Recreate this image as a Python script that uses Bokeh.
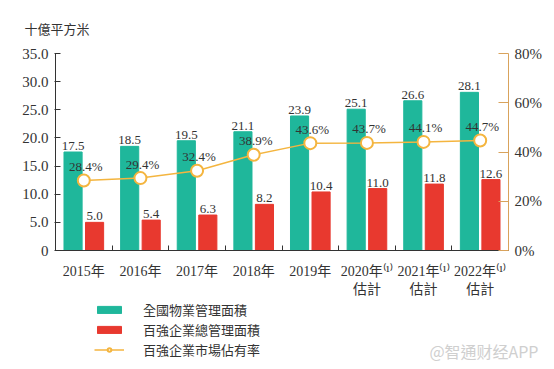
import numpy as np
from bokeh.plotting import figure
from bokeh.layouts import column
from bokeh.models import (ColumnDataSource, Range1d, LinearAxis, FixedTicker, Legend, LegendItem,
                          Title, Label, NumeralTickFormatter)
from bokeh.core.properties import value
from bokeh.embed import file_html
from bokeh.resources import INLINE

years = ["2015年", "2016年", "2017年", "2018年", "2019年", "2020年⁽¹⁾\n估計", "2021年⁽¹⁾\n估計", "2022年⁽¹⁾\n估計"]
national_area = [17.5, 18.5, 19.5, 21.1, 23.9, 25.1, 26.6, 28.1]
top100_area = [5.0, 5.4, 6.3, 8.2, 10.4, 11.0, 11.8, 12.6]
market_share = [28.4, 29.4, 32.4, 38.9, 43.6, 43.7, 44.1, 44.7]
left_ticks = [0, 5, 10, 15, 20, 25, 30, 35]
right_ticks = [0, 20, 40, 60, 80]
y_unit = "十億平方米"
legend_names = ["全國物業管理面積", "百強企業總管理面積", "百強企業市場佔有率"]
watermark = "@智通财经APP"

GREEN = "#1fb79b"
RED = "#e8392f"
LINE = "#f4b53f"
RAXIS = "#d9a35c"
DARK = "#333333"
SERIF = "'Liberation Serif', 'Noto Sans CJK TC'"
CJK = "Noto Sans CJK TC"

n = len(years)
xc = np.arange(n) + 0.5
src = ColumnDataSource(dict(
    x=xc, xg=xc - 0.19, xr=xc + 0.19,
    nat=national_area, top=top100_area, share=market_share,
    nat_lbl=[f"{v:.1f}" for v in national_area],
    top_lbl=[f"{v:.1f}" for v in top100_area],
    share_lbl=[f"{v:.1f}%" for v in market_share],
))

# ---------------- main chart ----------------
p = figure(width=554, height=299, output_backend="svg", toolbar_location=None,
           x_range=Range1d(0, n), y_range=Range1d(0, 35),
           min_border_left=55, min_border_right=46, min_border_top=48, min_border_bottom=49)
p.frame_align = False
p.outline_line_color = None
p.grid.visible = False
p.background_fill_color = "white"
p.border_fill_color = "white"
p.extra_y_ranges = {"pct": Range1d(0, 80)}

p.title = Title(text=y_unit, align="left", offset=-31, standoff=32,
                text_font=CJK, text_font_size="13px", text_font_style="normal", text_color=DARK)

bar_style_g = dict(color=GREEN)
bar_style_r = dict(color=RED)
line_style = dict(line_color=LINE, line_width=1.5)
mark_style = dict(size=12, fill_color="white", line_color=LINE, line_width=2)

p.vbar(x="xg", top="nat", width=0.32, source=src, **bar_style_g)
p.vbar(x="xr", top="top", width=0.32, source=src, **bar_style_r)
p.line(x="x", y="share", source=src, y_range_name="pct", **line_style)
p.scatter(x="x", y="share", source=src, y_range_name="pct", **mark_style)

p.text(x="xg", y="nat", text="nat_lbl", source=src, text_align="center", text_baseline="bottom",
       y_offset=-2, text_font=value(SERIF), text_font_size="13px", text_color=DARK)
p.text(x="xr", y="top", text="top_lbl", source=src, text_align="center", text_baseline="bottom",
       y_offset=-2, text_font=value(SERIF), text_font_size="13px", text_color=DARK)
p.text(x="x", y="share", text="share_lbl", source=src, y_range_name="pct", text_align="center",
       text_baseline="middle", x_offset=2, y_offset=-14, text_font=value(SERIF),
       text_font_size="13px", text_color=DARK)

ya = p.yaxis[0]
ya.ticker = FixedTicker(ticks=left_ticks)
ya.formatter = NumeralTickFormatter(format="0.0")
ya.major_label_overrides = {0: "0"}
ya.axis_line_color = DARK
ya.major_tick_line_color = DARK
ya.major_tick_in = 5
ya.major_tick_out = 1
ya.minor_tick_line_color = None
ya.major_label_text_font = SERIF
ya.major_label_text_font_size = "15px"
ya.major_label_text_color = DARK
ya.major_label_standoff = 6

xa = p.xaxis[0]
xa.ticker = FixedTicker(ticks=list(xc), minor_ticks=list(range(n + 1)))
xa.major_label_overrides = {float(v): years[i] for i, v in enumerate(xc)}
xa.axis_line_color = DARK
xa.major_tick_line_color = None
xa.minor_tick_line_color = DARK
xa.minor_tick_in = 5
xa.minor_tick_out = 0
xa.major_label_text_font = SERIF
xa.major_label_text_font_size = "14px"
xa.major_label_text_color = DARK
xa.major_label_standoff = 7

ra = LinearAxis(y_range_name="pct", ticker=FixedTicker(ticks=right_ticks),
                formatter=NumeralTickFormatter(format="0"))
ra.major_label_overrides = {v: f"{v}%" for v in right_ticks}
ra.axis_line_color = RAXIS
ra.major_tick_line_color = RAXIS
ra.major_tick_in = 10
ra.major_tick_out = 0
ra.minor_tick_line_color = None
ra.major_label_text_font = SERIF
ra.major_label_text_font_size = "15px"
ra.major_label_text_color = DARK
ra.major_label_standoff = 6
p.add_layout(ra, "right")

# ---------------- legend strip ----------------
q = figure(width=554, height=70, output_backend="svg", toolbar_location=None,
           x_range=Range1d(0, 1), y_range=Range1d(0, 1),
           x_axis_location=None, y_axis_location=None,
           min_border=0, min_border_left=0, min_border_right=0, min_border_top=0, min_border_bottom=0)
q.frame_align = False
q.grid.visible = False
q.outline_line_color = None
q.background_fill_color = "white"
q.border_fill_color = "white"

hidden = ColumnDataSource(dict(x=[np.nan], y=[np.nan]))
lg = q.vbar(x="x", top="y", width=0.3, source=hidden, **bar_style_g)
lr = q.vbar(x="x", top="y", width=0.3, source=hidden, **bar_style_r)
ll = q.line(x="x", y="y", source=hidden, **line_style)
lm = q.scatter(x="x", y="y", source=hidden, **mark_style)

legend = Legend(items=[
    LegendItem(label=legend_names[0], renderers=[lg]),
    LegendItem(label=legend_names[1], renderers=[lr]),
    LegendItem(label=legend_names[2], renderers=[ll, lm]),
], location=(94, 10), orientation="vertical")
legend.border_line_color = None
legend.background_fill_alpha = 0
legend.glyph_width = 30
legend.glyph_height = 9
legend.label_standoff = 19
legend.label_height = 16
legend.spacing = 1
legend.padding = 0
legend.margin = 0
legend.label_text_font = CJK
legend.label_text_font_size = "13px"
legend.label_text_color = DARK
q.add_layout(legend, "center")

q.add_layout(Label(x=538, y=19, x_units="screen", y_units="screen", text=watermark,
                   text_font=CJK, text_font_size="16px", text_color="#cfcfcf",
                   text_baseline="middle", text_align="right"))

layout = column(p, q, spacing=0)
open("out.html", "w").write(file_html(layout, INLINE))
